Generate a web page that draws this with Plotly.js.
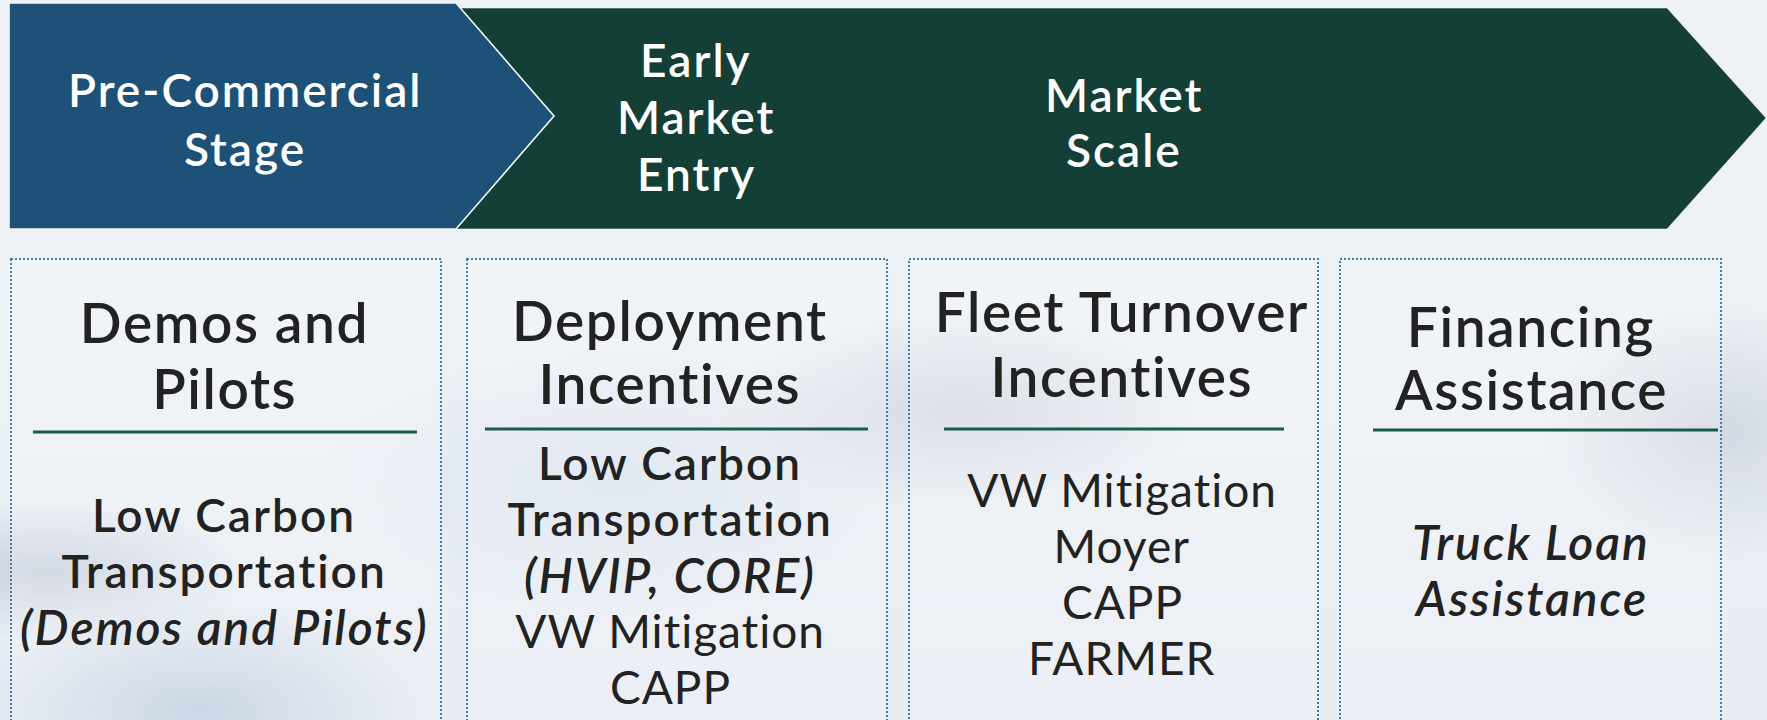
<!DOCTYPE html>
<html>
<head>
<meta charset="utf-8">
<script src="https://cdn.plot.ly/plotly-3.0.1.min.js"></script>
<style>
  html, body { margin: 0; padding: 0; }
  #wrap {
    width: 1767px; height: 720px; position: relative; overflow: hidden;
    background:
      radial-gradient(ellipse 230px 110px at 200px 710px, rgba(155,178,205,0.50), rgba(155,178,205,0) 100%),
      radial-gradient(ellipse 200px 70px at 50px 570px, rgba(165,175,195,0.45), rgba(165,175,195,0) 100%),
      radial-gradient(ellipse 240px 100px at 960px 410px, rgba(178,184,202,0.42), rgba(178,184,202,0) 100%),
      radial-gradient(ellipse 180px 130px at 1720px 430px, rgba(172,182,198,0.40), rgba(172,182,198,0) 100%),
      radial-gradient(ellipse 300px 140px at 620px 480px, rgba(190,205,225,0.35), rgba(190,205,225,0) 100%),
      linear-gradient(180deg, #eef1f5 0%, #edf1f6 50%, #e7ecf3 100%);
  }
  #chart { width: 1767px; height: 720px; }
</style>
</head>
<body>
<div id="wrap"><div id="chart"></div></div>
<script>
// ---- content ----
const stageLabels = ["Pre-Commercial<br>Stage", "Early<br>Market<br>Entry", "Market<br>Scale"];
const categoryLabels = ["Demos and<br>Pilots", "Deployment<br>Incentives", "Fleet Turnover<br>Incentives", "Financing<br>Assistance"];
const programLines1 = ["Low Carbon", "Transportation", "(Demos and Pilots)"];
const programLines2 = ["Low Carbon", "Transportation", "(HVIP, CORE)", "VW Mitigation", "CAPP"];
const programLines3 = ["VW Mitigation", "Moyer", "CAPP", "FARMER"];
const programLines4 = ["Truck Loan", "Assistance"];
const programStyles1 = ["semibold", "semibold", "bolditalic"];
const programStyles2 = ["semibold", "semibold", "bolditalic", "regular", "regular"];
const programStyles3 = ["regular", "regular", "regular", "regular"];
const programStyles4 = ["bolditalic", "bolditalic"];

const programLines = [programLines1, programLines2, programLines3, programLines4];
const programStyles = [programStyles1, programStyles2, programStyles3, programStyles4];

// ---- layout geometry ----
const W = 1767, H = 720;
const FONT = "Lato, 'Open Sans', sans-serif";
const BLUE = "#1d5177", GREEN = "#143f36", TEXT = "#222222", RULE = "#1c5a4a", DOT = "#4a79aa";

const shapes = [];
const annotations = [];
const spacing = [];  // letter spacing per annotation (px)

// green arrow (behind)
shapes.push({type: "path", xref: "x", yref: "y", layer: "above",
  path: "M 440 8 L 1667 8 L 1766 118 L 1667 229 L 440 229 Z",
  fillcolor: GREEN, line: {color: "rgba(255,255,255,0.5)", width: 1}});
// blue arrow (front)
shapes.push({type: "path", xref: "x", yref: "y", layer: "above",
  path: "M 9 3 L 456 3 L 554 116 L 456 229 L 9 229 Z",
  fillcolor: BLUE, line: {color: "#f4f6f8", width: 1.6}});

const stageX = [245, 696, 1124];
const stageY = [[89, 148], [59, 116, 173], [94, 149]];
stageLabels.forEach((lab, i) => {
  lab.split("<br>").forEach((ln, j) => {
    annotations.push({x: stageX[i], y: stageY[i][j], xref: "x", yref: "y",
      text: ln, showarrow: false, xanchor: "center", yanchor: "middle",
      font: {family: FONT, size: 46, color: "#ffffff", weight: 600}});
    spacing.push(2);
  });
});

// dotted boxes
const boxX0 = [11, 467, 909, 1340];
const boxX1 = [441, 887, 1318, 1721];
const textX = [224, 670, 1122, 1531];
const ruleX0 = [33, 485, 944, 1373];
const ruleX1 = [417, 868, 1284, 1718];
const ruleY = [432, 429, 429, 430];
const headY = [[322, 388], [320, 383], [311, 376], [326, 389]];
const bodyY0 = [514, 462, 489, 541];
const bodyPitch = 56;

categoryLabels.forEach((lab, i) => {
  shapes.push({type: "rect", xref: "x", yref: "y", layer: "below",
    x0: boxX0[i], x1: boxX1[i], y0: 259, y1: 760,
    fillcolor: "rgba(255,255,255,0.18)", line: {color: DOT, width: 2, dash: "2px,2px"}});
  shapes.push({type: "line", xref: "x", yref: "y", layer: "above",
    x0: ruleX0[i], x1: ruleX1[i], y0: ruleY[i], y1: ruleY[i],
    line: {color: RULE, width: 3}});
  const cx = textX[i];
  lab.split("<br>").forEach((ln, j) => {
    annotations.push({x: cx, y: headY[i][j], xref: "x", yref: "y",
      text: ln, showarrow: false, xanchor: "center", yanchor: "middle",
      font: {family: FONT, size: 55, color: TEXT, weight: 600}});
    spacing.push(1.6);
  });
  programLines[i].forEach((ln, j) => {
    const st = programStyles[i][j];
    const f = {family: FONT, size: st === "bolditalic" ? 48 : 46, color: TEXT,
      weight: st === "regular" ? 400 : 600,
      style: st === "bolditalic" ? "italic" : "normal"};
    annotations.push({x: cx, y: bodyY0[i] + j * bodyPitch, xref: "x", yref: "y",
      text: ln, showarrow: false, xanchor: "center", yanchor: "middle", font: f});
    spacing.push(st === "regular" ? 1 : 2);
  });
});

const layout = {
  width: W, height: H,
  margin: {l: 0, r: 0, t: 0, b: 0, pad: 0},
  paper_bgcolor: "rgba(0,0,0,0)", plot_bgcolor: "rgba(0,0,0,0)",
  xaxis: {range: [0, W], visible: false, fixedrange: true},
  yaxis: {range: [H, 0], visible: false, fixedrange: true},
  showlegend: false,
  shapes: shapes,
  annotations: annotations
};

Plotly.newPlot("chart", [{x: [], y: [], type: "scatter", hoverinfo: "skip"}], layout,
  {displayModeBar: false, staticPlot: true}).then(gd => {
  gd.querySelectorAll("g.annotation").forEach(g => {
    const idx = +g.getAttribute("data-index");
    const t = g.querySelector("text.annotation-text");
    if (t && spacing[idx] != null) t.style.letterSpacing = spacing[idx] + "px";
  });
});
</script>
</body>
</html>
